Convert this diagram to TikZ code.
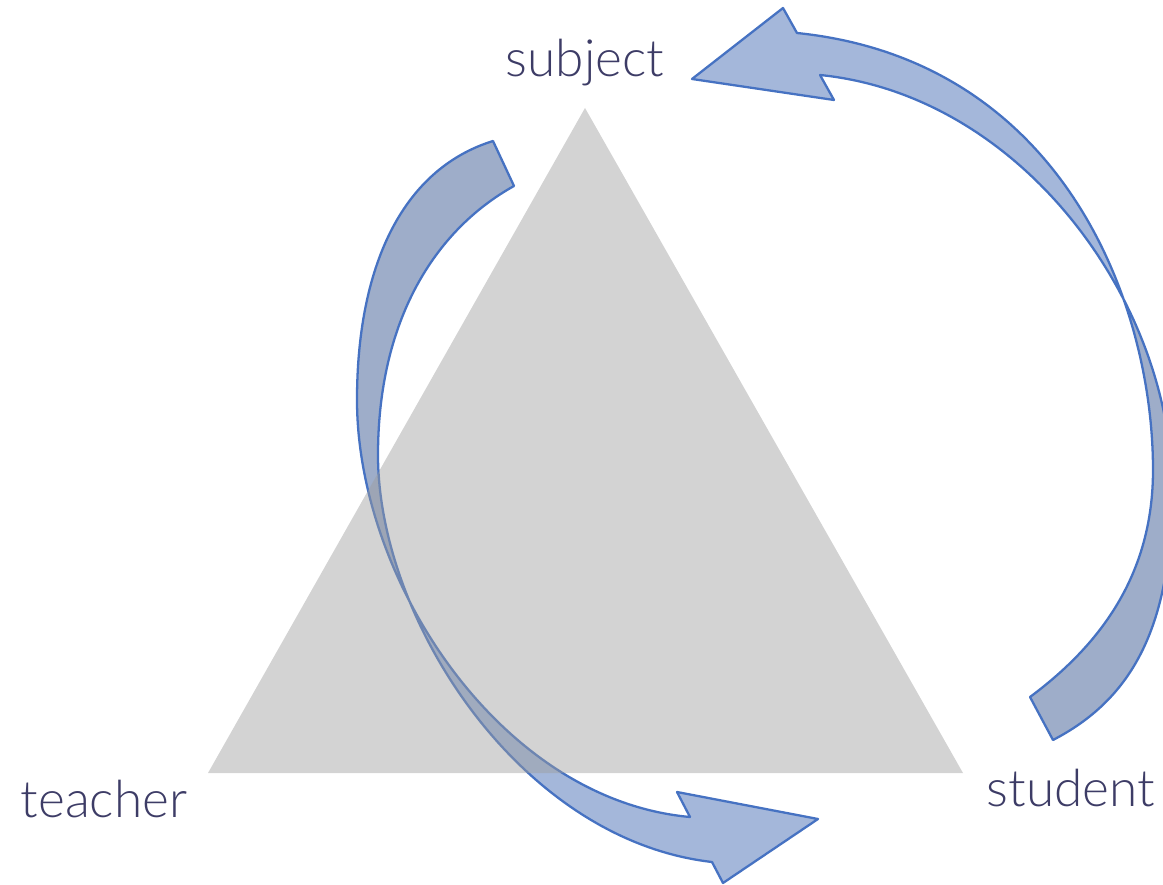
\documentclass[tikz,border=0pt]{standalone}
\usepackage{fontspec}
\IfFontExistsTF{Lato Light}{\setmainfont{Lato Light}}{\setmainfont{Lato}}
\usetikzlibrary{calc}
\definecolor{labelblue}{HTML}{3D3C66}
\definecolor{arrowline}{HTML}{4672C2}
\definecolor{arrowlight}{HTML}{A4B7DA}
\definecolor{arrowdark}{HTML}{9EADC9}
\definecolor{trigray}{RGB}{157,157,157}
\newcommand\leftband[0]{(493,141) .. controls (400,170) and (357,270) .. (357,400) .. controls (357,580) and (500,800) .. (690,817) -- (677,792) -- (818,819) -- (723,883) -- (712,862) .. controls (520,840) and (378,620) .. (378,455) .. controls (378,320) and (435,230) .. (514,186) -- cycle}
\newcommand\rightband[0]{(1030,697) .. controls (1100,645) and (1153,575) .. (1153,470) .. controls (1153,300) and (1060,60) .. (797,33) -- (783,8) -- (692,79) -- (834,100) -- (820,75) .. controls (1020,95) and (1172,300) .. (1172,490) .. controls (1172,630) and (1130,700) .. (1053,740) -- cycle}

\begin{document}
\begin{tikzpicture}[x=0.01cm,y=-0.01cm]
\tikzset{label/.style={text=labelblue,font=\fontsize{14.6}{18}\selectfont,anchor=base,inner sep=0pt}}

\useasboundingbox (0,0) rectangle (1163,885);

\coordinate (T) at (585,108);
\coordinate (L) at (208,773);
\coordinate (R) at (963,773);

% curved arrows, back part a shade darker
\fill[arrowlight] \leftband;
\begin{scope}
\clip (0,0) rectangle (1163,625);
\fill[arrowdark] \leftband;
\end{scope}
\draw[arrowline,line width=0.65pt,line join=round] \leftband;

\fill[arrowlight] \rightband;
\begin{scope}
\clip (0,283) rectangle (1163,885);
\fill[arrowdark] \rightband;
\end{scope}
\draw[arrowline,line width=0.65pt,line join=round] \rightband;

\fill[trigray,fill opacity=0.45] (T)--(R)--(L)--cycle;

\node[label] (subject) at (585,77) {subject};
\node[label] (teacher) at (104,817) {teacher};
\node[label] (student) at (1071,806) {student};

\end{tikzpicture}
\end{document}
